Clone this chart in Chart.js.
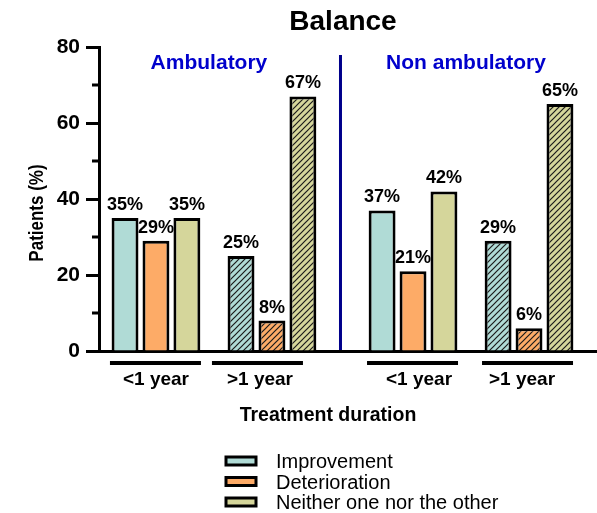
<!DOCTYPE html>
<html>
<head>
<meta charset="utf-8">
<title>Balance</title>
<script src="https://cdn.jsdelivr.net/npm/chart.js@4.4.1/dist/chart.umd.min.js"></script>
<style>
  html, body { margin: 0; padding: 0; background: #fff; }
  canvas { display: block; }
</style>
</head>
<body>
<canvas id="balanceChart" width="597" height="513"></canvas>
<script>
const groups = ["<1 year", ">1 year", "<1 year", ">1 year"];
const sections = ["Ambulatory", "Non ambulatory"];
const seriesNames = ["Improvement", "Deterioration", "Neither one nor the other"];
const improvement = [35, 25, 37, 29];
const deterioration = [29, 8, 21, 6];
const neither = [35, 67, 42, 65];
const yTicks = [0, 20, 40, 60, 80];
const yMinorTicks = [10, 30, 50, 70];

const FONT = '"Liberation Sans", Arial, sans-serif';
const colors = ["#b0dbd6", "#fdab67", "#d5d69b"];
const sectionGap = 0.216; // extra room between the two panels
const groupPos = groups.map((g, i) => i + (i >= 2 ? sectionGap : 0));
// the original captions/underlines are not quite centred
const captionShift = [0, -12, 6, -7];
const lineShift = [0, -14, 0, -1];

function hatch(color) {
  const c = document.createElement("canvas");
  c.width = 6; c.height = 6;
  const g = c.getContext("2d");
  g.fillStyle = color;
  g.fillRect(0, 0, 6, 6);
  g.strokeStyle = "#1a1a1a";
  g.lineWidth = 1.2;
  g.beginPath();
  g.moveTo(0, 6); g.lineTo(6, 0);
  g.moveTo(-1, 1); g.lineTo(1, -1);
  g.moveTo(5, 7); g.lineTo(7, 5);
  g.stroke();
  return g.createPattern(c, "repeat");
}

const datasets = [improvement, deterioration, neither].map((vals, k) => ({
  label: seriesNames[k],
  data: vals.map((v, i) => ({ x: groupPos[i], y: v })),
  backgroundColor: groups.map(g => g.startsWith(">") ? hatch(colors[k]) : colors[k]),
  borderColor: "#000",
  borderWidth: 3,
  borderSkipped: "bottom",
  categoryPercentage: 0.8,
  barPercentage: 0.87
}));

function text(ctx, str, x, y, font, color, align) {
  ctx.font = font;
  ctx.fillStyle = color || "#000";
  ctx.textAlign = align || "center";
  ctx.textBaseline = "alphabetic";
  ctx.fillText(str, x, y);
}

const decorations = {
  id: "decorations",
  afterDraw(chart) {
    const { ctx, scales: { x, y } } = chart;
    ctx.save();

    text(ctx, "Balance", 343, 30, `bold 28px ${FONT}`);

    // minor ticks on the y axis
    ctx.strokeStyle = "#000";
    ctx.lineWidth = 3;
    yMinorTicks.forEach(v => {
      const py = y.getPixelForValue(v);
      ctx.beginPath();
      ctx.moveTo(92, py);
      ctx.lineTo(99, py);
      ctx.stroke();
    });

    // divider between the two panels
    const divX = x.getPixelForValue((groupPos[1] + groupPos[2]) / 2) - 2;
    ctx.strokeStyle = "#00008b";
    ctx.lineWidth = 3;
    ctx.beginPath();
    ctx.moveTo(divX, 55);
    ctx.lineTo(divX, y.getPixelForValue(0) - 1);
    ctx.stroke();

    // panel titles
    sections.forEach((s, i) => {
      const cx = x.getPixelForValue((groupPos[2 * i] + groupPos[2 * i + 1]) / 2) - 5;
      text(ctx, s, cx, 69, `bold 21px ${FONT}`, "#0000cc");
    });

    // value labels
    chart.data.datasets.forEach((ds, k) => {
      chart.getDatasetMeta(k).data.forEach((bar, i) => {
        text(ctx, ds.data[i].y + "%", bar.x, bar.y - 8, `bold 18px ${FONT}`);
      });
    });

    // group underlines and captions
    groups.forEach((g, i) => {
      const cx = x.getPixelForValue(groupPos[i]);
      ctx.strokeStyle = "#000";
      ctx.lineWidth = 4;
      ctx.beginPath();
      ctx.moveTo(cx - 46 + lineShift[i], 363);
      ctx.lineTo(cx + 45 + lineShift[i], 363);
      ctx.stroke();
      text(ctx, g, cx + captionShift[i], 385, `bold 19px ${FONT}`);
    });

    // axis titles
    text(ctx, "Treatment duration", 328, 421, `bold 19.5px ${FONT}`);
    ctx.save();
    ctx.translate(43, 213);
    ctx.scale(1.2, 1);
    ctx.rotate(-Math.PI / 2);
    text(ctx, "Patients (%)", 0, 0, `bold 17px ${FONT}`);
    ctx.restore();

    // legend
    seriesNames.forEach((name, k) => {
      const ry = 461 + k * 20.5;
      ctx.fillStyle = colors[k];
      ctx.fillRect(226, ry - 4, 30, 8);
      ctx.strokeStyle = "#000";
      ctx.lineWidth = 3;
      ctx.strokeRect(226, ry - 4, 30, 8);
      text(ctx, name, 276, ry + 7, `20px ${FONT}`, "#000", "left");
    });

    ctx.restore();
  }
};

new Chart(document.getElementById("balanceChart"), {
  type: "bar",
  data: { datasets },
  plugins: [decorations],
  options: {
    responsive: false,
    animation: false,
    layout: { padding: { top: 47, left: 0, right: 0, bottom: 82 } },
    plugins: { legend: { display: false }, tooltip: { enabled: false } },
    scales: {
      x: {
        type: "linear",
        offset: false,
        min: -0.491,
        max: 3.802,
        grid: { display: false, offset: false },
        border: { display: true, color: "#000", width: 3 },
        ticks: { display: false },
        afterBuildTicks: s => { s.ticks = groupPos.map(v => ({ value: v })); },
        afterFit: s => { s.height = 80; }
      },
      y: {
        min: 0,
        max: 80,
        afterBuildTicks: s => { s.ticks = yTicks.map(v => ({ value: v })); },
        ticks: { color: "#000", padding: 6, font: { family: FONT, size: 21, weight: "bold" } },
        grid: { drawOnChartArea: false, tickLength: 13, tickWidth: 3, tickColor: "#000" },
        border: { color: "#000", width: 3 },
        afterFit: s => { s.width = 99; }
      }
    }
  }
});
</script>
</body>
</html>
